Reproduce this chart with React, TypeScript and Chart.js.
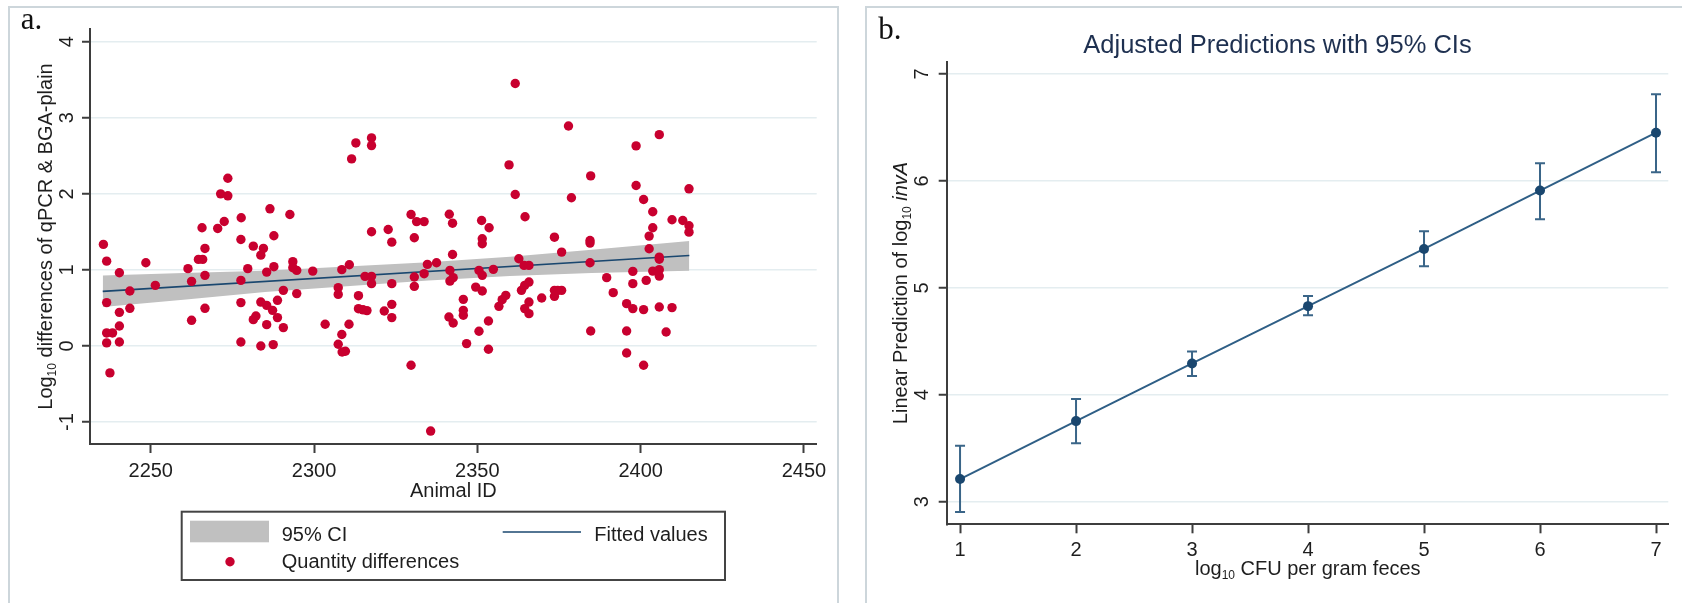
import React, { useEffect, useRef } from 'react';
import { Chart, registerables } from 'chart.js';

Chart.register(...registerables);

const SANS = '"Liberation Sans", Arial, sans-serif';
const SERIF = '"Liberation Serif", "Times New Roman", serif';
const RED = '#c8002f';
const NAVY = '#1a476f';
const LINE_B = '#2f5f86';
const GREY = '#c0c0c0';
const AXIS = '#3d3d3d';
const GRID = '#e4edf0';
const TXT = '#1e1e1e';

// ---------- Panel a data ----------
const animalId = [
  2235.5, 2236.5, 2240.4, 2248.5, 2243.6, 2251.4, 2236.5, 2243.6, 2240.4, 2240.4,
  2236.5, 2238.3, 2236.5, 2240.4, 2237.5, 2261.4, 2262.5, 2266.6, 2266.6, 2264.6,
  2265.9, 2265.7, 2270.5, 2272.5, 2266.6, 2262.5, 2271.4, 2273.6, 2273.6, 2277.7,
  2277.6, 2277.6, 2279.7, 2281.4, 2284.5, 2283.7, 2286.5, 2287.7, 2285.5, 2287.7,
  2292.6, 2293.5, 2294.7, 2293.5, 2299.6, 2290.6, 2294.7, 2288.8, 2277.6, 2283.7,
  2285.5, 2287.3, 2282.2, 2281.4, 2285.5, 2288.8, 2290.6, 2277.6, 2283.7, 2287.5,
  2303.4, 2307.4, 2307.4, 2308.5, 2310.8, 2313.6, 2311.5, 2312.8, 2317.6, 2317.6,
  2317.6, 2315.6, 2317.6, 2317.6, 2322.7, 2323.8, 2323.8, 2329.7, 2331.4, 2333.7,
  2330.7, 2330.7, 2330.7, 2310.7, 2308.5, 2307.4, 2308.6, 2309.6, 2313.6, 2315.0,
  2316.2, 2321.5, 2323.8, 2323.8, 2329.7, 2333.7, 2334.7, 2337.5, 2335.7,
  2342.4, 2341.4, 2342.4, 2341.6, 2341.6, 2342.6, 2341.3, 2342.6, 2345.7, 2345.7,
  2345.7, 2346.7, 2350.5, 2353.4, 2353.4, 2351.3, 2353.6, 2351.5, 2351.5, 2350.5,
  2351.5, 2349.5, 2351.5, 2354.9, 2356.6, 2357.6, 2358.7, 2362.7, 2364.3, 2365.8,
  2363.5, 2364.5, 2365.8, 2364.5, 2365.8, 2365.8, 2369.7, 2373.6, 2373.6, 2374.6,
  2375.8, 2373.6, 2375.8, 2361.6, 2377.9, 2359.7, 2361.6, 2364.6, 2378.8,
  2384.7, 2398.6, 2405.7, 2398.6, 2400.9, 2414.8, 2403.7, 2409.6, 2412.9, 2414.8,
  2414.8, 2403.7, 2402.6, 2402.6, 2405.7, 2405.7, 2403.7, 2405.7, 2405.7, 2397.6,
  2397.6, 2401.7, 2389.6, 2391.6, 2384.5, 2384.5, 2384.5, 2384.7, 2395.7, 2397.6,
  2400.9, 2395.7, 2395.7, 2400.9, 2405.7, 2409.6, 2407.8,
];
const quantityDiff = [
  1.335, 1.115, 0.963, 1.094, 0.722, 0.797, 0.57, 0.495, 0.442, 0.262,
  0.171, 0.171, 0.04, 0.052, -0.354, 1.016, 0.849, 0.928, 1.282, 1.138,
  1.138, 1.554, 1.545, 1.636, 0.495, 0.337, 2.0, 1.974, 2.205, 1.685,
  1.4, 0.862, 1.016, 1.312, 1.282, 1.194, 1.803, 1.449, 0.971, 1.042,
  1.728, 1.108, 0.993, 1.029, 0.984, 0.731, 0.688, 0.6, 0.57, 0.577,
  0.534, 0.468, 0.394, 0.346, 0.28, 0.373, 0.241, 0.052, 0.0, 0.018,
  0.285, 0.766, 0.678, 1.003, 1.068, 0.661, 2.459, 2.669, 2.735, 2.634,
  1.501, 0.915, 0.915, 0.819, 1.531, 1.365, 0.819, 1.728, 1.635, 1.635,
  1.423, 0.906, 0.783, 0.285, 0.15, 0.022, -0.079, -0.07, 0.49, 0.475,
  0.465, 0.459, 0.547, 0.373, -0.253, 0.95, 1.072, 1.094, -1.119,
  1.614, 1.732, 1.203, 0.993, 0.853, 0.898, 0.381, 0.302, 0.613, 0.468,
  0.403, 0.031, 0.193, 0.328, -0.043, 1.65, 1.554, 1.41, 1.344, 0.993,
  0.928, 0.774, 0.722, 1.007, 0.521, 0.609, 0.665, 1.147, 1.059, 1.059,
  0.731, 0.797, 0.84, 0.491, 0.425, 0.577, 0.63, 1.43, 0.731, 0.731,
  0.731, 0.652, 1.234, 3.451, 2.892, 2.38, 1.991, 1.698, 1.948,
  2.236, 2.63, 2.778, 2.109, 1.925, 2.066, 1.764, 1.659, 1.65, 1.58,
  1.496, 1.554, 1.444, 1.278, 1.168, 1.14, 0.984, 1.003, 0.919, 0.98,
  0.819, 0.862, 0.898, 0.701, 1.387, 1.352, 1.094, 0.197, 0.556, 0.491,
  0.478, 0.197, -0.092, -0.253, 0.512, 0.504, 0.184,
];
const fitX = [2235.3, 2414.9];
const fitY = [0.718, 1.19];
const ciX = [2235.3, 2260, 2285, 2310, 2335, 2360, 2385, 2414.9];
const ciUpper = [0.925, 0.958, 0.99, 1.045, 1.1, 1.172, 1.265, 1.38];
const ciLower = [0.512, 0.608, 0.708, 0.785, 0.86, 0.92, 0.96, 0.99];
const aXTicks = [2250, 2300, 2350, 2400, 2450];
const aYTicks = [-1, 0, 1, 2, 3, 4];

// ---------- Panel b data ----------
const cfuLog = [1, 2, 3, 4, 5, 6, 7];
const predInvA = [3.212, 3.754, 4.293, 4.829, 5.364, 5.91, 6.451];
const ciLowB = [2.904, 3.546, 4.175, 4.745, 5.202, 5.642, 6.081];
const ciHighB = [3.523, 3.96, 4.405, 4.925, 5.529, 6.165, 6.81];
const bXTicks = [1, 2, 3, 4, 5, 6, 7];
const bYTicks = [3, 4, 5, 6, 7];

type Part = [string, string, number];

function drawRich(ctx: CanvasRenderingContext2D, parts: Part[], x: number, y: number, align: 'left' | 'center', rotate: boolean, color = TXT) {
  ctx.save();
  ctx.translate(x, y);
  if (rotate) ctx.rotate(-Math.PI / 2);
  ctx.fillStyle = color;
  ctx.textAlign = 'left';
  ctx.textBaseline = 'alphabetic';
  let total = 0;
  const widths = parts.map(([t, f]) => {
    ctx.font = f;
    const w = ctx.measureText(t).width;
    total += w;
    return w;
  });
  let cur = align === 'center' ? -total / 2 : 0;
  parts.forEach(([t, f, dy], i) => {
    ctx.font = f;
    ctx.fillText(t, cur, dy);
    cur += widths[i];
  });
  ctx.restore();
}

function drawRotatedTicks(chart: any, ticks: number[], cx: number) {
  const ctx = chart.ctx as CanvasRenderingContext2D;
  const ys = chart.scales.y;
  ctx.save();
  ctx.fillStyle = TXT;
  ctx.font = `20px ${SANS}`;
  ctx.textAlign = 'center';
  ctx.textBaseline = 'middle';
  ticks.forEach((v) => {
    const y = ys.getPixelForValue(v);
    ctx.save();
    ctx.translate(cx, y);
    ctx.rotate(-Math.PI / 2);
    ctx.fillText(String(v), 0, 0);
    ctx.restore();
  });
  ctx.restore();
}

const F20 = `20px ${SANS}`;
const F12 = `12px ${SANS}`;
const FI20 = `italic 20px ${SANS}`;

const panelAPlugin = {
  id: 'panelA',
  afterDraw(chart: any) {
    const ctx = chart.ctx as CanvasRenderingContext2D;
    drawRotatedTicks(chart, aYTicks, 59.5);
    drawRich(ctx, [['Log', F20, 0], ['10', F12, 4], [' differences of qPCR & BGA-plain', F20, 0]], 43.5, 230.5, 'center', true);
    drawRich(ctx, [['Animal ID', F20, 0]], 445.3, 491, 'center', false);
    // legend
    ctx.save();
    ctx.strokeStyle = '#444';
    ctx.lineWidth = 2;
    ctx.strokeRect(173.7, 505.7, 543.3, 68.3);
    ctx.fillStyle = GREY;
    ctx.fillRect(182, 514.7, 79, 21.6);
    ctx.strokeStyle = NAVY;
    ctx.lineWidth = 1.6;
    ctx.beginPath();
    ctx.moveTo(494.7, 526);
    ctx.lineTo(573, 526);
    ctx.stroke();
    ctx.fillStyle = RED;
    ctx.beginPath();
    ctx.arc(222, 555.7, 4.7, 0, Math.PI * 2);
    ctx.fill();
    ctx.restore();
    drawRich(ctx, [['95% CI', F20, 0]], 273.7, 534.5, 'left', false);
    drawRich(ctx, [['Fitted values', F20, 0]], 586.3, 534.5, 'left', false);
    drawRich(ctx, [['Quantity differences', F20, 0]], 273.7, 562, 'left', false);
    drawRich(ctx, [['a.', `31px ${SERIF}`, 0]], 12.7, 23.3, 'left', false, '#111');
  },
};

const panelBPlugin = {
  id: 'panelB',
  beforeDatasetsDraw(chart: any) {
    const ctx = chart.ctx as CanvasRenderingContext2D;
    const xs = chart.scales.x;
    const ys = chart.scales.y;
    ctx.save();
    ctx.strokeStyle = '#3a6588';
    ctx.lineWidth = 2;
    cfuLog.forEach((xv, i) => {
      const x = xs.getPixelForValue(xv);
      const y1 = ys.getPixelForValue(ciLowB[i]);
      const y2 = ys.getPixelForValue(ciHighB[i]);
      ctx.beginPath();
      ctx.moveTo(x, y1);
      ctx.lineTo(x, y2);
      ctx.moveTo(x - 5, y1);
      ctx.lineTo(x + 5, y1);
      ctx.moveTo(x - 5, y2);
      ctx.lineTo(x + 5, y2);
      ctx.stroke();
    });
    ctx.restore();
  },
  afterDraw(chart: any) {
    const ctx = chart.ctx as CanvasRenderingContext2D;
    drawRotatedTicks(chart, bYTicks, 56);
    drawRich(ctx, [['Linear Prediction of log', F20, 0], ['10', F12, 4], [' ', F20, 0], ['invA', FI20, 0]], 41, 287, 'center', true);
    drawRich(ctx, [['log', F20, 0], ['10', F12, 4], [' CFU per gram feces', F20, 0]], 441.8, 569, 'center', false);
    drawRich(ctx, [['Adjusted Predictions with 95% CIs', `25.5px ${SANS}`, 0]], 411.5, 46.5, 'center', false, '#1e3050');
    drawRich(ctx, [['b.', `31px ${SERIF}`, 0]], 12.3, 33.3, 'left', false, '#111');
  },
};

export default function App() {
  const refA = useRef<HTMLCanvasElement>(null);
  const refB = useRef<HTMLCanvasElement>(null);

  useEffect(() => {
    const chartA = new Chart(refA.current as HTMLCanvasElement, {
      type: 'scatter',
      data: {
        datasets: [
          {
            type: 'scatter',
            label: 'Quantity differences',
            data: animalId.map((x, i) => ({ x, y: quantityDiff[i] })),
            backgroundColor: RED,
            borderColor: RED,
            borderWidth: 0,
            pointRadius: 4.7,
            order: 0,
          } as any,
          {
            type: 'line',
            label: 'Fitted values',
            data: fitX.map((x, i) => ({ x, y: fitY[i] })),
            borderColor: NAVY,
            borderWidth: 1.6,
            pointRadius: 0,
            fill: false,
            order: 1,
          } as any,
          {
            type: 'line',
            label: '95% CI',
            data: ciX.map((x, i) => ({ x, y: ciUpper[i] })),
            borderColor: 'rgba(0,0,0,0)',
            borderWidth: 0,
            backgroundColor: GREY,
            pointRadius: 0,
            fill: '+1',
            order: 2,
          } as any,
          {
            type: 'line',
            label: '95% CI lower',
            data: ciX.map((x, i) => ({ x, y: ciLower[i] })),
            borderColor: 'rgba(0,0,0,0)',
            borderWidth: 0,
            pointRadius: 0,
            fill: false,
            order: 3,
          } as any,
        ],
      },
      options: {
        animation: false,
        responsive: false,
        events: [],
        layout: { padding: { top: 23, right: 21.3, left: 0, bottom: 0 } },
        plugins: { legend: { display: false }, tooltip: { enabled: false }, title: { display: false } },
        scales: {
          x: {
            type: 'linear',
            min: 2231.4,
            max: 2453.9,
            afterBuildTicks: (s: any) => { s.ticks = aXTicks.map((v) => ({ value: v })); },
            afterFit: (s: any) => { s.height = 159; },
            grid: { drawOnChartArea: false, drawTicks: true, tickLength: 9, tickColor: AXIS, tickWidth: 2 },
            border: { display: true, color: AXIS, width: 2 },
            ticks: { font: { family: SANS, size: 20 }, color: TXT, padding: 6, maxRotation: 0, autoSkip: false, callback: (v: any) => String(v) },
          },
          y: {
            type: 'linear',
            min: -1.289,
            max: 4.167,
            afterBuildTicks: (s: any) => { s.ticks = aYTicks.map((v) => ({ value: v })); },
            afterFit: (s: any) => { s.width = 82; },
            grid: { color: GRID, lineWidth: 1.5, drawTicks: true, tickLength: 8, tickColor: AXIS, tickWidth: 2 },
            border: { display: true, color: AXIS, width: 2 },
            ticks: { display: false },
          },
        },
      } as any,
      plugins: [panelAPlugin],
    });

    const chartB = new Chart(refB.current as HTMLCanvasElement, {
      type: 'scatter',
      data: {
        datasets: [
          {
            type: 'line',
            label: 'Linear prediction',
            data: cfuLog.map((x, i) => ({ x, y: predInvA[i] })),
            borderColor: LINE_B,
            borderWidth: 2,
            pointRadius: 5,
            pointBackgroundColor: NAVY,
            pointBorderColor: NAVY,
            pointBorderWidth: 0,
            fill: false,
            tension: 0,
          } as any,
        ],
      },
      options: {
        animation: false,
        responsive: false,
        events: [],
        layout: { padding: { top: 55.7, right: 13.7, left: 0, bottom: 0 } },
        plugins: { legend: { display: false }, tooltip: { enabled: false }, title: { display: false } },
        scales: {
          x: {
            type: 'linear',
            min: 0.885,
            max: 7.106,
            afterBuildTicks: (s: any) => { s.ticks = bXTicks.map((v) => ({ value: v })); },
            afterFit: (s: any) => { s.height = 78.7; },
            grid: { drawOnChartArea: false, drawTicks: true, tickLength: 9, tickColor: AXIS, tickWidth: 2 },
            border: { display: true, color: AXIS, width: 2 },
            ticks: { font: { family: SANS, size: 20 }, color: TXT, padding: 5, maxRotation: 0, autoSkip: false, callback: (v: any) => String(v) },
          },
          y: {
            type: 'linear',
            min: 2.789,
            max: 7.115,
            afterBuildTicks: (s: any) => { s.ticks = bYTicks.map((v) => ({ value: v })); },
            afterFit: (s: any) => { s.width = 80.7; },
            grid: { color: GRID, lineWidth: 1.5, drawTicks: true, tickLength: 8, tickColor: AXIS, tickWidth: 2 },
            border: { display: true, color: AXIS, width: 2 },
            ticks: { display: false },
          },
        },
      } as any,
      plugins: [panelBPlugin],
    });

    return () => {
      chartA.destroy();
      chartB.destroy();
    };
  }, []);

  return (
    <div style={{ position: 'absolute', left: 0, top: 0, width: 1682, height: 603, overflow: 'hidden', background: '#fff' }}>
      <div style={{ position: 'absolute', left: 8, top: 6, width: 831, height: 700, boxSizing: 'border-box', border: '2px solid #cdd6db' }} />
      <div style={{ position: 'absolute', left: 865, top: 6, width: 900, height: 700, boxSizing: 'border-box', border: '2px solid #cdd6db' }} />
      <canvas ref={refA} width={830} height={597} style={{ position: 'absolute', left: 8, top: 6, width: 830, height: 597 }} />
      <canvas ref={refB} width={816} height={597} style={{ position: 'absolute', left: 866, top: 6, width: 816, height: 597 }} />
    </div>
  );
}
